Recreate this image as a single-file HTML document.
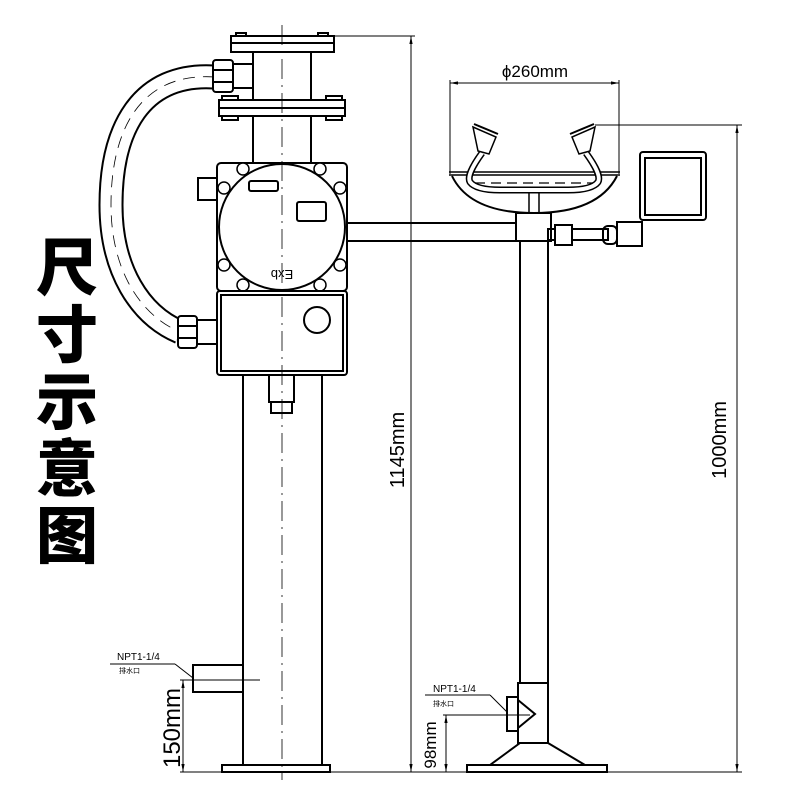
<!DOCTYPE html>
<html><head><meta charset="utf-8"><style>
html,body{margin:0;padding:0;background:#fff;}
svg{display:block;}
text{font-family:"Liberation Sans","Noto Sans CJK SC",sans-serif;}
</style></head><body>
<svg width="800" height="800" viewBox="0 0 800 800" xmlns="http://www.w3.org/2000/svg">
<defs>
<marker id="a" viewBox="0 0 10 10" refX="10" refY="5" markerWidth="8" markerHeight="8" orient="auto-start-reverse"><path d="M0,3 L10,5 L0,7 z" fill="#000"/></marker>
</defs>
<rect width="800" height="800" fill="#fff"/>
<g font-family="Noto Sans CJK SC, sans-serif" font-weight="900" font-size="62" text-anchor="middle" fill="#000">
<text x="67" y="290">尺</text>
<text x="67" y="357">寸</text>
<text x="67" y="424">示</text>
<text x="67" y="491">意</text>
<text x="67" y="558">图</text>
</g>
<g fill="none" stroke="#000" stroke-width="2">
<!-- hose -->
<path d="M215,77 C140,72 111,130 111,205 C111,270 140,315 180,332" stroke-width="25"/>
<path d="M215,77 C140,72 111,130 111,205 C111,270 140,315 180,332" stroke="#fff" stroke-width="21"/>
<path d="M215,77 C140,72 111,130 111,205 C111,270 140,315 180,332" stroke-width="0.8" stroke-dasharray="12,8"/>
<rect x="213" y="60" width="20" height="32" rx="3" fill="#fff"/>
<line x1="213" y1="70" x2="233" y2="70"/><line x1="213" y1="82" x2="233" y2="82"/>
<rect x="233" y="64" width="20" height="24"/>
<rect x="178" y="316" width="19" height="32" rx="3" fill="#fff"/>
<line x1="178" y1="326" x2="197" y2="326"/><line x1="178" y1="338" x2="197" y2="338"/>
<rect x="197" y="320" width="20" height="24"/>
<!-- upper pipe and flanges -->
<rect x="253" y="52" width="58" height="111"/>
<rect x="231" y="36" width="103" height="16" fill="#fff"/>
<line x1="231" y1="43" x2="334" y2="43"/>
<rect x="219" y="100" width="126" height="16" fill="#fff"/>
<line x1="219" y1="108" x2="345" y2="108"/>
<rect x="222" y="96" width="16" height="4"/><rect x="326" y="96" width="16" height="4"/>
<rect x="222" y="116" width="16" height="4"/><rect x="326" y="116" width="16" height="4"/>
<rect x="236" y="33" width="10" height="3"/><rect x="318" y="33" width="10" height="3"/>
<!-- box 1 -->
<rect x="217" y="163" width="130" height="128" rx="4" fill="#fff"/>
<circle cx="282" cy="227" r="63"/>
<rect x="198" y="178" width="19" height="22"/>
<rect x="249" y="181" width="29" height="10" rx="2"/>
<rect x="297" y="202" width="29" height="19" rx="2"/>
<g stroke-width="1.5">
<circle cx="243" cy="169" r="6" fill="#fff"/><circle cx="320" cy="169" r="6" fill="#fff"/>
<circle cx="224" cy="188" r="6" fill="#fff"/><circle cx="340" cy="188" r="6" fill="#fff"/>
<circle cx="224" cy="265" r="6" fill="#fff"/><circle cx="340" cy="265" r="6" fill="#fff"/>
<circle cx="243" cy="285" r="6" fill="#fff"/><circle cx="320" cy="285" r="6" fill="#fff"/>
</g>
<text x="282" y="280" font-size="13" text-anchor="middle" fill="#000" stroke="none" transform="rotate(180 282 275)">Exb</text>
<!-- box 2 -->
<rect x="217" y="291" width="130" height="84" rx="3" fill="#fff"/>
<rect x="221" y="295" width="122" height="76"/>
<circle cx="317" cy="320" r="13"/>
<!-- lower pipe -->
<rect x="269" y="375" width="25" height="27"/>
<rect x="271" y="402" width="21" height="11"/>
<line x1="243" y1="375" x2="243" y2="765"/><line x1="322" y1="375" x2="322" y2="765"/>
<rect x="222" y="765" width="108" height="7"/>
<rect x="193" y="665" width="50" height="27"/>
<!-- arm -->
<rect x="347" y="223" width="173" height="18" fill="#fff"/>
<!-- right pole -->
<line x1="520" y1="241" x2="520" y2="683"/><line x1="548" y1="241" x2="548" y2="683"/>
<rect x="516" y="213" width="35" height="28" fill="#fff"/>
<line x1="529" y1="192" x2="529" y2="213" stroke-width="1.5"/><line x1="539" y1="192" x2="539" y2="213" stroke-width="1.5"/>
<!-- bowl -->
<line x1="449" y1="172" x2="620" y2="172" stroke-width="1.5"/>
<line x1="449" y1="175" x2="620" y2="175" stroke-width="1.5"/>
<path d="M452,176 Q470,213 534,213 Q598,213 617,176"/>
<path d="M482,153 Q466,175 470,182 Q476,190 500,190 L568,190 Q592,190 598,182 Q602,175 586,153" stroke-width="7"/>
<path d="M482,153 Q466,175 470,182 Q476,190 500,190 L568,190 Q592,190 598,182 Q602,175 586,153" stroke="#fff" stroke-width="4"/>
<path d="M475,183 L593,183" stroke-width="1.2" stroke-dasharray="10,6"/>
<path d="M473,127 L496,137 L489,154 L478,151 Z" fill="#fff" stroke-width="1.5"/>
<path d="M474,124 L498,134" stroke-width="2"/>
<path d="M595,127 L572,137 L579,154 L590,151 Z" fill="#fff" stroke-width="1.5"/>
<path d="M594,124 L570,134" stroke-width="2"/>
<!-- right arm to handle -->
<rect x="548" y="229" width="60" height="11"/>
<rect x="555" y="225" width="17" height="20" fill="#fff"/>
<rect x="603" y="226" width="14" height="18" rx="5"/>
<rect x="617" y="222" width="25" height="24"/>
<rect x="640" y="152" width="66" height="68" rx="3"/>
<rect x="645" y="158" width="56" height="57"/>
<!-- tee and base -->
<rect x="518" y="683" width="30" height="60"/>
<rect x="507" y="697" width="11" height="34"/>
<path d="M518,700 L535,714 L518,728"/>
<path d="M520,743 L490,765 M548,743 L585,765"/>
<rect x="467" y="765" width="140" height="7"/>
</g>
<g stroke="#000" stroke-width="1" fill="none">
<line x1="334" y1="36" x2="415" y2="36"/>
<line x1="411" y1="36" x2="411" y2="772" marker-start="url(#a)" marker-end="url(#a)"/>
<line x1="180" y1="772" x2="420" y2="772"/>
<line x1="183" y1="680" x2="183" y2="772" marker-start="url(#a)" marker-end="url(#a)"/>
<line x1="180" y1="680" x2="260" y2="680"/>
<line x1="110" y1="664" x2="175" y2="664"/><line x1="175" y1="664" x2="193" y2="678"/>
<line x1="450" y1="80" x2="450" y2="174"/><line x1="619" y1="80" x2="619" y2="174"/>
<line x1="450" y1="83" x2="619" y2="83" marker-start="url(#a)" marker-end="url(#a)"/>
<line x1="595" y1="125" x2="742" y2="125"/>
<line x1="737" y1="125" x2="737" y2="772" marker-start="url(#a)" marker-end="url(#a)"/>
<line x1="420" y1="772" x2="742" y2="772"/>
<line x1="446" y1="715" x2="446" y2="772" marker-start="url(#a)" marker-end="url(#a)"/>
<line x1="443" y1="715" x2="530" y2="715"/>
<line x1="425" y1="695" x2="490" y2="695"/><line x1="490" y1="695" x2="507" y2="712"/>
<line x1="282" y1="25" x2="282" y2="780" stroke-dasharray="20,6,2,6" stroke-width="0.8"/>
</g>
<g fill="#000" font-size="20">
<text x="535" y="77" text-anchor="middle" font-size="17">ϕ260mm</text>
<text transform="translate(404 450) rotate(-90)" text-anchor="middle">1145mm</text>
<text transform="translate(726 440) rotate(-90)" text-anchor="middle">1000mm</text>
<text transform="translate(180 728) rotate(-90)" text-anchor="middle" font-size="24">150mm</text>
<text transform="translate(436 745) rotate(-90)" text-anchor="middle" font-size="17">98mm</text>
<text x="117" y="660" font-size="10">NPT1-1/4</text>
<text x="119" y="673" font-size="7" font-family="Noto Sans CJK SC,sans-serif">排水口</text>
<text x="433" y="692" font-size="10">NPT1-1/4</text>
<text x="433" y="706" font-size="7" font-family="Noto Sans CJK SC,sans-serif">排水口</text>
</g>
</svg>
</body></html>
